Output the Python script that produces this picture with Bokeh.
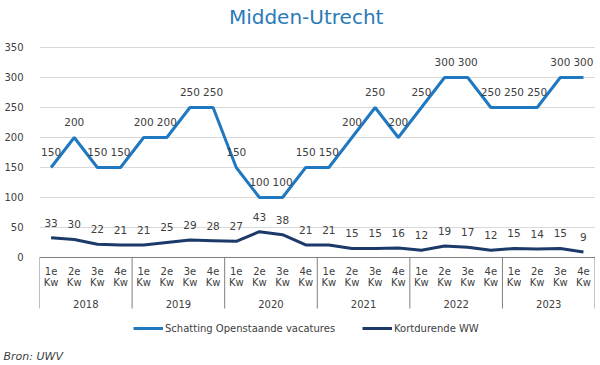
from bokeh.plotting import figure
from bokeh.models import Range1d, FixedTicker, Legend, LegendItem, Title
from bokeh.core.properties import value
from bokeh.embed import file_html
from bokeh.resources import INLINE

years = ["2018", "2019", "2020", "2021", "2022", "2023"]
quarters = ["1e", "2e", "3e", "4e"]
quarter_unit = "Kw"
vacatures = [150, 200, 150, 150, 200, 200, 250, 250, 150, 100, 100, 150,
             150, 200, 250, 200, 250, 300, 300, 250, 250, 250, 300, 300]
kortdurende_ww = [33, 30, 22, 21, 21, 25, 29, 28, 27, 43, 38, 21,
                  21, 15, 15, 16, 12, 19, 17, 12, 15, 14, 15, 9]
y_ticks = [0, 50, 100, 150, 200, 250, 300, 350]
title_text = "Midden-Utrecht"
series_names = ["Schatting Openstaande vacatures", "Kortdurende WW"]
source_text = "Bron: UWV"

BLUE = "#1f78c0"
NAVY = "#1b3a6a"
TEXT = "#404040"
FONT = "DejaVu Sans"

n = len(years) * len(quarters)
xs = [i + 0.5 for i in range(n)]

# frame: top at 0px, bottom at 347px; 0 -> 257px, 0.6 px per unit
p = figure(width=595, height=365, output_backend="svg", toolbar_location=None,
           x_range=Range1d(0, n + 0.02), y_range=Range1d(-150.0, 428.33),
           min_border_left=39, min_border_right=0, min_border_top=0, min_border_bottom=18)
p.title.visible = False
p.outline_line_color = None
p.xaxis.visible = False
p.xgrid.visible = False

ticker = FixedTicker(ticks=y_ticks)
p.yaxis.ticker = ticker
p.ygrid.ticker = ticker
p.ygrid.grid_line_color = "#d9d9d9"
p.yaxis.axis_line_color = None
p.yaxis.major_tick_line_color = None
p.yaxis.minor_tick_line_color = None
p.yaxis.major_label_standoff = 10
p.yaxis.major_label_text_font = FONT
p.yaxis.major_label_text_font_size = "10px"
p.yaxis.major_label_text_color = TEXT

# category axis frame
sep_x = [k * len(quarters) for k in range(len(years) + 1)]
p.segment(x0=0, y0=0, x1=n, y1=0, line_color="#7f7f7f", line_width=1)
p.segment(x0=sep_x, y0=[0] * len(sep_x), x1=sep_x, y1=[-85] * len(sep_x),
          line_color="#7f7f7f", line_width=1)

q_labels = [q for _ in years for q in quarters]
p.text(x=xs, y=[-23.3] * n, text=q_labels, text_align="center", text_baseline="middle",
       text_font=value(FONT), text_font_size="10px", text_color=TEXT)
p.text(x=xs, y=[-41.7] * n, text=[quarter_unit] * n, text_align="center", text_baseline="middle",
       text_font=value(FONT), text_font_size="10px", text_color=TEXT)
year_x = [k * len(quarters) + len(quarters) / 2 for k in range(len(years))]
p.text(x=year_x, y=[-76.7] * len(years), text=years, text_align="center", text_baseline="middle",
       text_font=value(FONT), text_font_size="10px", text_color=TEXT)

# lines
r1 = p.line(xs, vacatures, line_color=BLUE, line_width=3)
r2 = p.line(xs, kortdurende_ww, line_color=NAVY, line_width=3)

p.text(x=xs, y=vacatures, text=[str(v) for v in vacatures], text_align="center",
       text_baseline="middle", y_offset=-15, text_font=value(FONT), text_font_size="10.5px",
       text_color=TEXT)
p.text(x=xs, y=kortdurende_ww, text=[str(v) for v in kortdurende_ww], text_align="center",
       text_baseline="middle", y_offset=-15, text_font=value(FONT), text_font_size="10.5px",
       text_color=TEXT)

# title
p.text(x=[11.52], y=[400], text=[title_text], text_align="center", text_baseline="middle",
       text_font=value(FONT), text_font_size="20px", text_color="#2a7ab8")

# legends (location relative to the frame's bottom-left corner)
for item_name, rend, loc in [(series_names[0], r1, (94, 13)), (series_names[1], r2, (323, 13))]:
    lg = Legend(items=[LegendItem(label=item_name, renderers=[rend])], location=loc,
                orientation="horizontal", border_line_color=None, background_fill_alpha=0,
                padding=0, margin=0, glyph_width=30, glyph_height=12, label_height=12,
                label_standoff=2, label_text_font=FONT, label_text_font_size="10px",
                label_text_color=TEXT)
    p.add_layout(lg)

# source note below the frame
p.add_layout(Title(text=source_text, align="left", offset=-36, standoff=0,
                   text_font=FONT, text_font_size="11px", text_font_style="italic",
                   text_color=TEXT), "below")

open("out.html", "w").write(file_html(p, INLINE))
